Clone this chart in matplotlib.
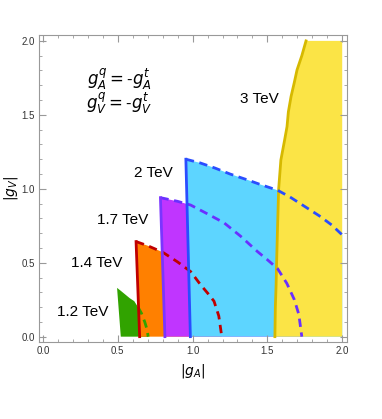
import matplotlib
matplotlib.use("Agg")
import matplotlib.pyplot as plt
from matplotlib.ticker import MultipleLocator

plt.rcParams['font.family'] = ['Liberation Sans', 'DejaVu Sans']
plt.rcParams['mathtext.fontset'] = 'dejavusans'

# boundaries (|g_A|, |g_V|)
green_x = [0.495, 0.52, 0.55, 0.58, 0.61, 0.635, 0.658, 0.68, 0.695, 0.703]
green_y = [0.33, 0.31, 0.285, 0.26, 0.24, 0.20, 0.158, 0.10, 0.05, 0.0]
green_left_x = [0.52, 0.495]
green_left_y = [0.0, 0.33]

red_x = [0.622, 0.70, 0.80, 0.90, 0.987, 1.054, 1.10, 1.143, 1.175, 1.195]
red_y = [0.643, 0.615, 0.571, 0.505, 0.44, 0.35, 0.295, 0.24, 0.14, 0.0]
red_left_x = [0.646, 0.622]
red_left_y = [0.0, 0.643]

purple_x = [0.785, 0.90, 0.987, 1.10, 1.21, 1.32, 1.434, 1.50, 1.568, 1.63, 1.68, 1.71, 1.73]
purple_y = [0.94, 0.915, 0.89, 0.83, 0.77, 0.68, 0.575, 0.52, 0.46, 0.36, 0.25, 0.15, 0.0]
purple_left_x = [0.815, 0.785]
purple_left_y = [0.0, 0.94]

blue_x = [0.955, 1.05, 1.15, 1.25, 1.367, 1.45, 1.568, 1.65, 1.75, 1.85, 1.93, 2.0]
blue_y = [1.20, 1.175, 1.14, 1.10, 1.06, 1.03, 0.99, 0.945, 0.88, 0.815, 0.755, 0.688]
blue_left_x = [0.985, 0.955]
blue_left_y = [0.0, 1.20]

yellow_x = [1.55, 1.553, 1.558, 1.561, 1.568, 1.575, 1.59, 1.615, 1.631, 1.64, 1.658, 1.68, 1.698, 1.73, 1.758]
yellow_y = [0.0, 0.2, 0.35, 0.485, 0.75, 0.997, 1.195, 1.33, 1.42, 1.52, 1.624, 1.72, 1.804, 1.90, 2.0]

labels = ['1.2 TeV', '1.4 TeV', '1.7 TeV', '2 TeV', '3 TeV']
label_x = [0.262, 0.362, 0.53, 0.738, 1.447]
label_y = [0.169, 0.497, 0.79, 1.105, 1.606]

fig = plt.figure(figsize=(3.82, 4.19), dpi=100)
ax = fig.add_axes([0.102, 0.1845, 0.8056, 0.7320])

# fills, drawn back to front
ax.fill(green_left_x + green_x, green_left_y + green_y, color='#31a300', lw=0)
ax.fill(red_left_x + red_x, red_left_y + red_y, color='#ff8000', lw=0)
ax.fill(purple_left_x + purple_x, purple_left_y + purple_y, color='#c035ff', lw=0)
ax.fill(blue_left_x + blue_x + [2.0], blue_left_y + blue_y + [0.0], color='#5dd5ff', lw=0)
ax.fill(yellow_x + [2.0, 2.0], yellow_y + [2.0, 0.0], color='#fbe446', lw=0)
ax.plot(yellow_x, yellow_y, color='#d6b900', lw=2)

# dashed tops
ax.plot(green_x[5:], green_y[5:], color='#31a300', lw=2, ls=(0, (3, 2)))
ax.plot(red_x, red_y, color='#c00000', lw=2, ls=(0, (3, 2)))
ax.plot(purple_x, purple_y, color='#6a30ff', lw=2, ls=(0, (3, 2)))
ax.plot(blue_x, blue_y, color='#2a4dff', lw=2, ls=(0, (3, 2)))

# solid left edges
ax.plot(red_left_x, red_left_y, color='#c00000', lw=2)
ax.plot(purple_left_x, purple_left_y, color='#7a35ff', lw=2)
ax.plot(blue_left_x, blue_left_y, color='#2a4dff', lw=2)

for t, x, y in zip(labels, label_x, label_y):
    ax.text(x, y, t, fontsize=11, ha='center', va='center')

ax.text(0.51, 1.737, r'$g_A^q=$-$g_A^t$', fontsize=12, ha='center', va='center')
ax.text(0.51, 1.579, r'$g_V^q=$-$g_V^t$', fontsize=12, ha='center', va='center')

ax.set_xlim(-0.027, 2.03)
ax.set_ylim(-0.034, 2.04)
ax.xaxis.set_major_locator(MultipleLocator(0.5))
ax.yaxis.set_major_locator(MultipleLocator(0.5))
ax.xaxis.set_minor_locator(MultipleLocator(0.1))
ax.yaxis.set_minor_locator(MultipleLocator(0.1))
ax.xaxis.set_major_formatter(lambda v, p: f'{v:.1f}')
ax.yaxis.set_major_formatter(lambda v, p: f'{v:.1f}')
ax.tick_params(which='both', direction='in', top=True, right=True, color='#999999',
               labelsize=7, labelcolor='#333333', pad=3)
ax.tick_params(which='major', length=5)
ax.tick_params(which='minor', length=2.5)
for s in ax.spines.values():
    s.set_color('#999999')

ax.set_xlabel(r'$|g_A|$', fontsize=10)
ax.set_ylabel(r'$|g_V|$', fontsize=10)
ax.xaxis.set_label_coords(0.5, -0.065)
ax.yaxis.set_label_coords(-0.06, 0.5)

fig.savefig('out.png', dpi=100)
